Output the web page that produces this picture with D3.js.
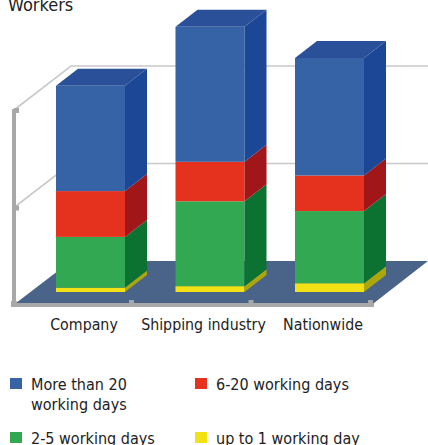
<!DOCTYPE html>
<html>
<head>
<meta charset="utf-8">
<style>
html,body{margin:0;padding:0;background:#fff;overflow:hidden}
svg{display:block}
text{font-family:"DejaVu Sans Condensed","DejaVu Sans",sans-serif;font-stretch:condensed;fill:#222}
</style>
<script src="https://cdn.jsdelivr.net/npm/d3@7"></script>
</head>
<body>
<div id="chart"></div>
<script>
// Stacked 3D column chart of sick-leave duration by worker group
const title = "Workers";
const categories = ["Company", "Shipping industry", "Nationwide"];
const upToOneDay = [0.45, 0.6, 0.9];
const twoToFiveDays = [5.2, 8.7, 7.4];
const sixToTwentyDays = [4.7, 4.05, 3.65];
const moreThanTwentyDays = [10.8, 13.85, 12.05];
const axisTicks = [0, 10, 20];
const seriesNames = ["up to 1 working day", "2-5 working days", "6-20 working days", "More than 20 working days"];
const seriesValues = [upToOneDay, twoToFiveDays, sixToTwentyDays, moreThanTwentyDays];
const frontColors = ["#f2e215", "#32a852", "#e5321f", "#3563a6"];
const sideColors = ["#aba60c", "#0b7232", "#a11618", "#1c4696"];
const topColor = "#2a5099";

const W = 428, H = 445;
const svg = d3.select("#chart").append("svg").attr("width", W).attr("height", H);

const y = d3.scaleLinear().domain([0, 20]).range([305, 110]);
const x = d3.scaleBand().domain(categories).range([56, 364]).paddingInner(0.4226).paddingOuter(0);
const wall = {x: 14, dx: 57, dy: -44, right: 428};
const barLift = -13;           // columns stand this far behind the front edge of the floor
const barDepth = {dx: 22, dy: -17};
const axisGrey = "#a8a8a8", gridGrey = "#c9c9c9";

const path = pts => "M" + pts.map(p => p.join(",")).join("L") + "Z";

// Floor
svg.append("path")
  .attr("d", path([[wall.x + 2, y(0) - 2], [wall.x + wall.dx, y(0) + wall.dy], [wall.right, y(0) + wall.dy], [374, y(0) - 2]]))
  .attr("fill", "#4a6389");

// Grid lines running along the side and back walls
axisTicks.slice(1).forEach(t => {
  svg.append("polyline")
    .attr("points", [[wall.x, y(t)], [wall.x + wall.dx, y(t) + wall.dy], [wall.right, y(t) + wall.dy]].join(" "))
    .attr("fill", "none").attr("stroke", gridGrey).attr("stroke-width", 1.6);
});

// Front axes with their tick stubs
svg.append("line").attr("x1", wall.x).attr("x2", wall.x).attr("y1", y(20) - 1).attr("y2", y(0) + 2)
  .attr("stroke", axisGrey).attr("stroke-width", 4);
svg.append("line").attr("x1", 11).attr("x2", 374).attr("y1", y(0)).attr("y2", y(0))
  .attr("stroke", axisGrey).attr("stroke-width", 4);
axisTicks.slice(1).forEach(t => {
  svg.append("rect").attr("x", wall.x).attr("y", y(t) - 2).attr("width", 5).attr("height", 5).attr("fill", axisGrey);
});
categories.forEach(c => {
  svg.append("rect").attr("x", x(c) + x.bandwidth() + 4).attr("y", y(0) - 5).attr("width", 5).attr("height", 5).attr("fill", axisGrey);
});
svg.append("rect").attr("x", 11).attr("y", y(0) - 4).attr("width", 6).attr("height", 6).attr("fill", axisGrey);

// Stacked columns
const stackRows = categories.map((c, i) => {
  const row = {category: c};
  seriesNames.forEach((s, j) => row[s] = seriesValues[j][i]);
  return row;
});
const layers = d3.stack().keys(seriesNames)(stackRows);
const barY = v => y(v) + barLift;

categories.forEach((c, i) => {
  const g = svg.append("g");
  const x0 = x(c), x1 = x0 + x.bandwidth();
  layers.forEach((layer, j) => {
    const [v0, v1] = layer[i];
    g.append("rect").attr("x", x0).attr("y", barY(v1)).attr("width", x1 - x0).attr("height", barY(v0) - barY(v1))
      .attr("fill", frontColors[j]);
    g.append("path")
      .attr("d", path([[x1, barY(v0)], [x1, barY(v1)], [x1 + barDepth.dx, barY(v1) + barDepth.dy], [x1 + barDepth.dx, barY(v0) + barDepth.dy]]))
      .attr("fill", sideColors[j]);
  });
  const topV = layers[layers.length - 1][i][1];
  g.append("path")
    .attr("d", path([[x0, barY(topV)], [x1, barY(topV)], [x1 + barDepth.dx, barY(topV) + barDepth.dy], [x0 + barDepth.dx, barY(topV) + barDepth.dy]]))
    .attr("fill", topColor);
});

// Title and category labels
svg.append("text").attr("x", 8).attr("y", 11).attr("font-size", 18).text(title);
categories.forEach(c => {
  svg.append("text").attr("x", x(c) + x.bandwidth() / 2 - 6.5).attr("y", 330).attr("text-anchor", "middle")
    .attr("font-size", 15.8).text(c);
});

// Legend
const legend = [
  {series: 3, x: 10, y: 378, lines: ["More than 20", "working days"]},
  {series: 2, x: 195, y: 378, lines: ["6-20 working days"]},
  {series: 1, x: 10, y: 432, lines: ["2-5 working days"]},
  {series: 0, x: 195, y: 432, lines: ["up to 1 working day"]}
];
legend.forEach(d => {
  svg.append("rect").attr("x", d.x).attr("y", d.y).attr("width", 12).attr("height", 11).attr("fill", frontColors[d.series]);
  d.lines.forEach((t, k) => {
    svg.append("text").attr("x", d.x + 21).attr("y", d.y + 12 + k * 20).attr("font-size", 16).text(t);
  });
});
</script>
</body>
</html>
